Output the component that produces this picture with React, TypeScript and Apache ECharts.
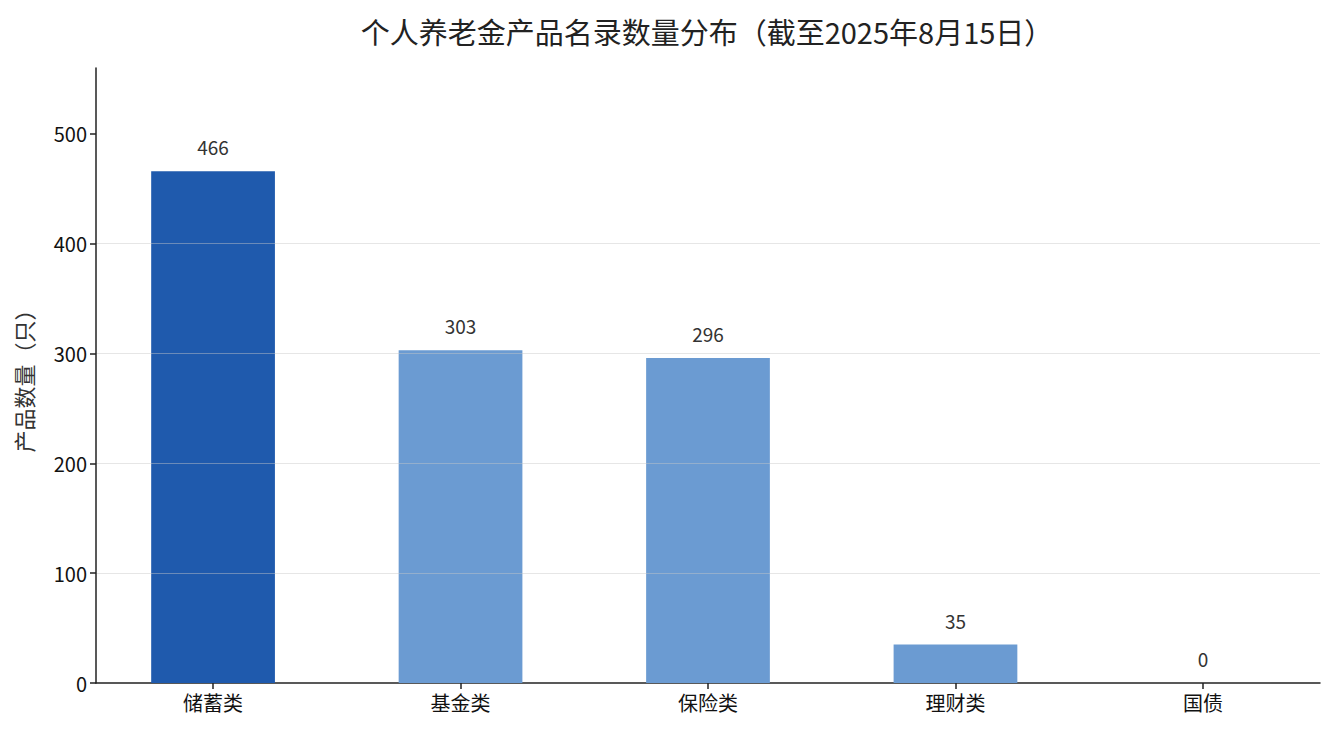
import React, { useEffect, useRef } from 'react';
import * as echarts from 'echarts';

const categories = ['储蓄类', '基金类', '保险类', '理财类', '国债'];
const counts = [466, 303, 296, 35, 0];
const yTicks = [0, 100, 200, 300, 400, 500];

const FONT = '"Noto Sans CJK SC", "Noto Sans", sans-serif';

const App: React.FC = () => {
  const chartRef = useRef<HTMLDivElement>(null);

  useEffect(() => {
    if (!chartRef.current) return;
    const chart = echarts.init(chartRef.current, null, { renderer: 'svg' });

    const xTicks = categories.map((_, i) => i);

    chart.setOption({
      animation: false,
      textStyle: { fontFamily: FONT },
      title: {
        text: '个人养老金产品名录数量分布（截至2025年8月15日）',
        left: 702,
        textAlign: 'center',
        top: 11,
        textStyle: { fontFamily: FONT, fontSize: 29, fontWeight: 'normal', color: '#222' },
      },
      grid: { left: 96, right: 15, top: 68, bottom: 52 },
      xAxis: {
        type: 'value',
        min: -0.473,
        max: categories.length - 1 + 0.473,
        splitLine: { show: false },
        axisLine: { onZero: false, lineStyle: { color: '#222', width: 1.5 } },
        axisTick: { show: true, length: 6, customValues: xTicks, lineStyle: { color: '#222', width: 1.5 } },
        axisLabel: {
          fontFamily: FONT,
          fontSize: 20,
          color: '#111',
          margin: 9,
          customValues: xTicks,
          formatter: (v: number) => categories[Math.round(v)] ?? '',
        },
      },
      yAxis: {
        type: 'value',
        min: 0,
        max: 560,
        interval: 100,
        z: 5,
        name: '产品数量（只）',
        nameLocation: 'middle',
        nameGap: 62,
        nameTextStyle: { fontFamily: FONT, fontSize: 22, color: '#333' },
        axisLine: { show: true, onZero: false, lineStyle: { color: '#222', width: 1.5 } },
        axisTick: { show: true, length: 6, customValues: yTicks, lineStyle: { color: '#222', width: 1.5 } },
        axisLabel: { fontFamily: FONT, fontSize: 20, color: '#111', margin: 9, customValues: yTicks },
        splitLine: {
          show: true,
          showMinLine: false,
          showMaxLine: false,
          lineStyle: { color: 'rgba(200,200,200,0.45)', width: 1 },
        },
      },
      series: [
        {
          type: 'bar',
          data: counts.map((v, i) => ({
            value: [i, v],
            itemStyle: { color: i === 0 ? '#1f5aad' : '#6b9bd2' },
          })),
          barWidth: '50%',
          label: {
            show: true,
            position: 'top',
            distance: 15,
            fontFamily: FONT,
            fontSize: 19,
            color: '#333',
            formatter: (p: any) => String(p.value[1]),
          },
        },
      ],
    });

    return () => {
      chart.dispose();
    };
  }, []);

  return (
    <div
      ref={chartRef}
      style={{ position: 'fixed', left: 0, top: 0, width: '1335px', height: '735px', background: '#fff' }}
    />
  );
};

export default App;
